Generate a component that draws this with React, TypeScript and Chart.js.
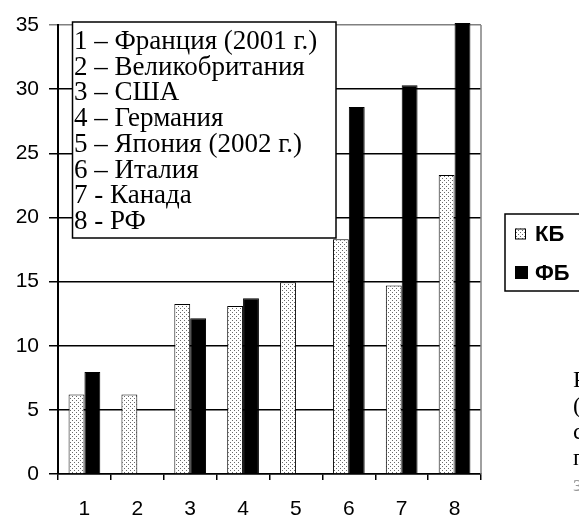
import React, { useEffect, useRef } from "react";
import { Chart, registerables } from "chart.js";

Chart.register(...registerables);

const categories = ["1", "2", "3", "4", "5", "6", "7", "8"];
const seriesLabels = ["КБ", "ФБ"];
const kbValues: (number | null)[] = [6.2, 6.2, 13.25, 13.1, 14.95, 18.3, 14.7, 23.3];
const fbValues: (number | null)[] = [7.95, null, 12.15, 13.7, null, 28.6, 30.3, 35.15];
const yMin = 0;
const yMax = 35;
const yStep = 5;
const countryNotes = [
  "1 – Франция (2001 г.)",
  "2 – Великобритания",
  "3 – США",
  "4 – Германия",
  "5 – Япония (2002 г.)",
  "6 – Италия",
  "7 - Канада",
  "8 - РФ",
];
const sideText = ["Р", "(", "с", "п", "з"];

function makeDotPattern(): CanvasPattern | string {
  const c = document.createElement("canvas");
  c.width = 4;
  c.height = 4;
  const g = c.getContext("2d");
  if (!g) return "#ddd";
  g.fillStyle = "#ffffff";
  g.fillRect(0, 0, 4, 4);
  g.fillStyle = "#6a6a6a";
  g.fillRect(0, 0, 1, 1);
  g.fillRect(2, 2, 1, 1);
  const p = g.createPattern(c, "repeat");
  return p || "#ddd";
}

export default function App() {
  const ref = useRef<HTMLCanvasElement | null>(null);

  useEffect(() => {
    if (!ref.current) return;
    const dots = makeDotPattern();

    const overlay = {
      id: "overlay",
      afterDraw(chart: any) {
        const ctx = chart.ctx as CanvasRenderingContext2D;
        const a = chart.chartArea;
        ctx.save();
        // right plot border
        ctx.strokeStyle = "#808080";
        ctx.lineWidth = 1.5;
        ctx.beginPath();
        ctx.moveTo(a.right, a.top);
        ctx.lineTo(a.right, a.bottom);
        ctx.stroke();

        // country notes box
        const bx = 72.5, by = 22, bw = 263.5, bh = 216;
        ctx.fillStyle = "#ffffff";
        ctx.fillRect(bx, by, bw, bh);
        ctx.strokeStyle = "#000000";
        ctx.lineWidth = 1.5;
        ctx.strokeRect(bx, by, bw, bh);
        ctx.fillStyle = "#000000";
        ctx.font = '27px "Liberation Serif"';
        ctx.textBaseline = "middle";
        ctx.textAlign = "left";
        countryNotes.forEach((t, i) => {
          ctx.fillText(t, bx + 1.5, 42 + i * 25.7);
        });

        // series legend box
        const lx = 505, ly = 214, lw = 100, lh = 77;
        ctx.fillStyle = "#ffffff";
        ctx.fillRect(lx, ly, lw, lh);
        ctx.strokeStyle = "#000000";
        ctx.lineWidth = 1.5;
        ctx.strokeRect(lx, ly, lw, lh);
        const ds = chart.data.datasets;
        ds.forEach((d: any, i: number) => {
          const cy = 234 + i * 38.5;
          const s = i === 0 ? 11 : 13;
          ctx.fillStyle = d.backgroundColor;
          ctx.fillRect(515, cy - s / 2, s, s);
          ctx.strokeStyle = "#000000";
          ctx.lineWidth = 1;
          ctx.strokeRect(515.5, cy - s / 2 + 0.5, s - 1, s - 1);
          ctx.fillStyle = "#000000";
          ctx.font = 'bold 22px "Liberation Sans"';
          ctx.textBaseline = "middle";
          ctx.fillText(d.label, 535, cy + 1);
        });

        // clipped body text fragments at right edge
        ctx.font = '24px "Liberation Serif"';
        sideText.forEach((t, i) => {
          ctx.fillStyle = i === sideText.length - 1 ? "#999999" : "#000000";
          ctx.fillText(t, 573, 381 + i * 26);
        });
        ctx.restore();
      },
    };

    const chart = new Chart(ref.current, {
      type: "bar",
      data: {
        labels: categories,
        datasets: [
          {
            label: seriesLabels[0],
            data: kbValues,
            backgroundColor: dots as any,
            borderColor: "#000000",
            borderWidth: 1,
            categoryPercentage: 0.6,
            barPercentage: 1.0,
            clip: false as any,
          },
          {
            label: seriesLabels[1],
            data: fbValues,
            backgroundColor: "#000000",
            borderColor: "#000000",
            borderWidth: 1,
            categoryPercentage: 0.6,
            barPercentage: 1.0,
            clip: false as any,
          },
        ],
      },
      options: {
        animation: false,
        responsive: true,
        maintainAspectRatio: false,
        layout: { padding: { top: 25, right: 98, left: 0, bottom: 0 } },
        plugins: {
          legend: { display: false },
          tooltip: { enabled: false },
          title: { display: false },
        },
        scales: {
          x: {
            grid: {
              display: true,
              drawOnChartArea: false,
              drawTicks: true,
              tickLength: 6,
              color: "#000000",
              lineWidth: 1.5,
              offset: true,
            },
            border: { display: true, color: "#000000", width: 1.5 },
            ticks: {
              color: "#000000",
              font: { family: "Liberation Sans", size: 21 },
              padding: 17,
              maxRotation: 0,
            },
            afterFit: (s: any) => {
              s.height = 45;
            },
          },
          y: {
            min: yMin,
            max: yMax,
            ticks: {
              stepSize: yStep,
              color: "#000000",
              font: { family: "Liberation Sans", size: 21 },
              padding: 10,
            },
            grid: {
              color: (c: any) => (c.tick && c.tick.value === yMax ? "#808080" : "#000000"),
              lineWidth: 1.5,
              tickLength: 9,
              drawTicks: true,
            },
            border: { display: true, color: "#000000", width: 2 },
            afterFit: (s: any) => {
              s.width = 58;
            },
          },
        },
      },
      plugins: [overlay],
    });

    return () => chart.destroy();
  }, []);

  return (
    <div style={{ position: "absolute", left: 0, top: 0, width: 579, height: 519, background: "#fff" }}>
      <canvas ref={ref} />
    </div>
  );
}
